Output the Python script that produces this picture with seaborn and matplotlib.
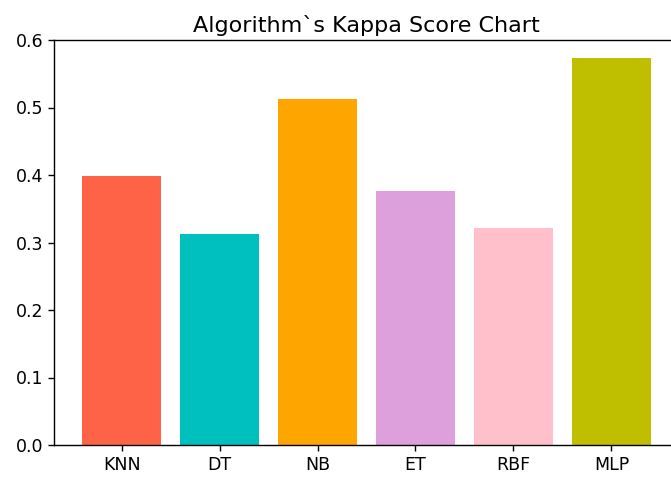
import matplotlib
matplotlib.use("Agg")
import matplotlib.pyplot as plt
import seaborn as sns
import pandas as pd

algorithms = ["KNN", "DT", "NB", "ET", "RBF", "MLP"]
kappa = [0.399, 0.313, 0.513, 0.377, 0.321, 0.573]
colors = ["tomato", "c", "orange", "plum", "pink", "y"]

df = pd.DataFrame({"alg": algorithms, "kappa": kappa})

scale = 1.25
plt.rcParams.update({
    "font.family": ["DejaVu Sans"],
    "font.size": 10 * scale,
    "axes.linewidth": 0.8 * scale,
    "xtick.major.size": 3.5 * scale,
    "ytick.major.size": 3.5 * scale,
    "xtick.major.width": 0.8 * scale,
    "ytick.major.width": 0.8 * scale,
})

fig = plt.figure(figsize=(6.71, 4.78), dpi=100)
ax = fig.add_axes([54 / 671, 33 / 478, 625 / 671, 405 / 478])

sns.barplot(data=df, x="alg", y="kappa", hue="alg", palette=colors,
            saturation=1, width=0.8, legend=False, ax=ax)
ax.set_xlim(-0.69, 5.69)
ax.set_ylim(0, 0.6)
ax.set_yticks([0.0, 0.1, 0.2, 0.3, 0.4, 0.5, 0.6])
ax.set_xlabel("")
ax.set_ylabel("")
ax.tick_params(labelsize=10 * scale)
ax.set_title("Algorithm`s Kappa Score Chart", fontsize=16)

fig.savefig("out.png", dpi=100)
